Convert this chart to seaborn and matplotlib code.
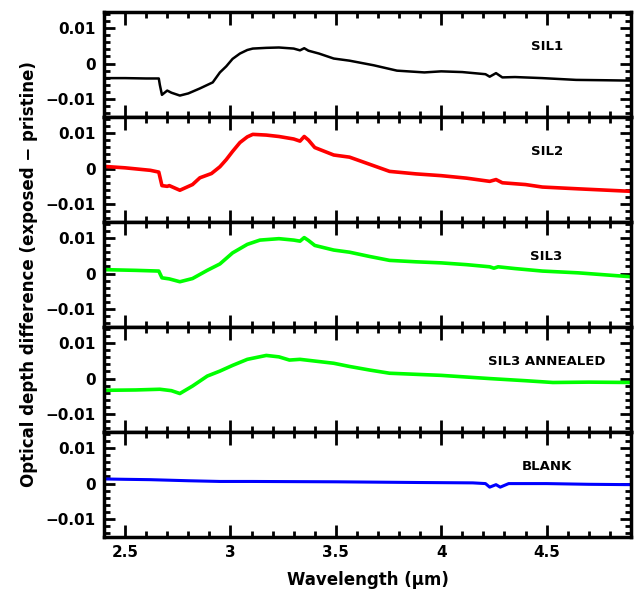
import numpy as np
import pandas as pd
import matplotlib
matplotlib.use('Agg')
import matplotlib.pyplot as plt
import seaborn as sns
from matplotlib.ticker import MultipleLocator

sil1_wl = [2.40, 2.50, 2.60, 2.66, 2.665, 2.675, 2.70, 2.72, 2.76, 2.80, 2.855, 2.916, 2.95, 2.98,
           3.01, 3.045, 3.08, 3.106, 3.17, 3.23, 3.30, 3.33, 3.35, 3.37, 3.42, 3.49, 3.565, 3.68,
           3.79, 3.92, 4.00, 4.10, 4.21, 4.23, 4.26, 4.29, 4.35, 4.48, 4.64, 4.78, 4.90]
sil1_od = [-0.0041, -0.0041, -0.0042, -0.0042, -0.0060, -0.0088, -0.0076, -0.0082, -0.0090, -0.0084,
           -0.0070, -0.0053, -0.0025, -0.0008, 0.0013, 0.0028, 0.0038, 0.0042, 0.0044, 0.0045,
           0.0042, 0.0037, 0.0043, 0.0036, 0.0028, 0.0014, 0.0008, -0.0005, -0.0020, -0.0025,
           -0.0022, -0.0024, -0.0030, -0.0037, -0.0027, -0.0039, -0.0038, -0.0041, -0.0046,
           -0.0047, -0.0048]

sil2_wl = [2.40, 2.50, 2.62, 2.66, 2.675, 2.70, 2.71, 2.76, 2.82, 2.855, 2.91, 2.95, 2.98, 3.01,
           3.045, 3.08, 3.106, 3.17, 3.23, 3.30, 3.33, 3.35, 3.37, 3.40, 3.49, 3.565, 3.66, 3.755,
           3.88, 4.00, 4.12, 4.23, 4.26, 4.29, 4.40, 4.48, 4.65, 4.90]
sil2_od = [0.0006, 0.0002, -0.0005, -0.0010, -0.0048, -0.0050, -0.0048, -0.0061, -0.0045, -0.0026,
           -0.0014, 0.0005, 0.0025, 0.0048, 0.0073, 0.0089, 0.0096, 0.0094, 0.0090, 0.0083,
           0.0077, 0.0090, 0.0080, 0.0059, 0.0038, 0.0032, 0.0012, -0.0008, -0.0015, -0.0020,
           -0.0027, -0.0036, -0.0031, -0.0040, -0.0045, -0.0052, -0.0057, -0.0064]

sil3_wl = [2.40, 2.55, 2.66, 2.675, 2.71, 2.76, 2.82, 2.89, 2.95, 3.01, 3.08, 3.14, 3.23, 3.30,
           3.33, 3.35, 3.37, 3.40, 3.49, 3.565, 3.66, 3.755, 3.88, 4.00, 4.12, 4.23, 4.25, 4.27,
           4.35, 4.48, 4.65, 4.90]
sil3_od = [0.0011, 0.0009, 0.0007, -0.0012, -0.0015, -0.0023, -0.0014, 0.0009, 0.0027, 0.0058,
           0.0082, 0.0094, 0.0098, 0.0094, 0.0091, 0.0101, 0.0093, 0.0079, 0.0066, 0.0060,
           0.0048, 0.0037, 0.0033, 0.0030, 0.0025, 0.0019, 0.0015, 0.0019, 0.0014, 0.0007,
           0.0002, -0.0009]

ann_wl = [2.40, 2.55, 2.665, 2.72, 2.76, 2.82, 2.89, 2.95, 3.01, 3.08, 3.17, 3.23, 3.28, 3.33,
          3.49, 3.565, 3.66, 3.755, 4.00, 4.23, 4.40, 4.53, 4.70, 4.90]
ann_od = [-0.0033, -0.0032, -0.0030, -0.0034, -0.0042, -0.0021, 0.0007, 0.0021, 0.0037, 0.0054,
          0.0065, 0.0061, 0.0052, 0.0054, 0.0043, 0.0034, 0.0024, 0.0015, 0.0009, 0.0000,
          -0.0006, -0.0011, -0.0010, -0.0011]

blank_wl = [2.40, 2.50, 2.62, 2.80, 2.95, 3.10, 3.50, 3.90, 4.15, 4.21, 4.23, 4.26, 4.28, 4.32,
            4.50, 4.70, 4.90]
blank_od = [0.0013, 0.0012, 0.0011, 0.0008, 0.0006, 0.0006, 0.0005, 0.0003, 0.0002, 0.0000,
            -0.0010, -0.0003, -0.0010, 0.0000, 0.0000, -0.0002, -0.0003]

labels = ['SIL1', 'SIL2', 'SIL3', 'SIL3 ANNEALED', 'BLANK']
colors = ['black', '#ff0000', '#00ff00', '#00ff00', '#0000ff']
widths = [1.8, 2.6, 2.6, 2.6, 2.2]
spectra = [(sil1_wl, sil1_od), (sil2_wl, sil2_od), (sil3_wl, sil3_od),
           (ann_wl, ann_od), (blank_wl, blank_od)]

sns.set_style('ticks')
plt.rcParams['font.family'] = ['DejaVu Sans']
plt.rcParams['font.weight'] = 'bold'
plt.rcParams['text.color'] = 'black'
plt.rcParams['axes.labelcolor'] = 'black'
plt.rcParams['axes.edgecolor'] = 'black'
plt.rcParams['xtick.color'] = 'black'
plt.rcParams['ytick.color'] = 'black'

fig, axes = plt.subplots(5, 1, figsize=(6.36, 5.95), dpi=100, sharex=True)
fig.subplots_adjust(left=0.1635, right=0.992, top=0.980, bottom=0.0975, hspace=0)

for ax, lab, col, lw, (wl, od) in zip(axes, labels, colors, widths, spectra):
    df = pd.DataFrame({'wl': wl, 'od': od})
    sns.lineplot(data=df, x='wl', y='od', ax=ax, color=col, lw=lw, estimator=None, sort=False)
    ax.set_xlim(2.4, 4.9)
    ax.set_ylim(-0.015, 0.0145)
    ax.set_xlabel('')
    ax.set_ylabel('')
    ax.set_yticks([-0.01, 0, 0.01])
    ax.set_yticklabels(['\u22120.01', '0', '0.01'])
    ax.yaxis.set_minor_locator(MultipleLocator(0.002))
    ax.xaxis.set_major_locator(MultipleLocator(0.5))
    ax.xaxis.set_minor_locator(MultipleLocator(0.1))
    ax.tick_params(which='both', direction='in', top=True, right=True, width=2.0, color='black')
    ax.tick_params(axis='x', which='major', length=9)
    ax.tick_params(axis='x', which='minor', length=4.5)
    ax.tick_params(axis='y', which='major', length=8)
    ax.tick_params(axis='y', which='minor', length=4)
    ax.tick_params(axis='both', labelsize=11, pad=6, labelcolor='black')
    for lbl in ax.get_yticklabels() + ax.get_xticklabels():
        lbl.set_fontweight('bold')
    for sp in ax.spines.values():
        sp.set_linewidth(2.5)
        sp.set_color('black')
        sp.set_visible(True)
    ax.text(4.5, 0.0048, lab, ha='center', va='center', fontsize=9.5, fontweight='bold',
            color='black')

axes[-1].set_xticks([2.5, 3, 3.5, 4, 4.5])
axes[-1].set_xticklabels(['2.5', '3', '3.5', '4', '4.5'])
axes[-1].set_xlabel('Wavelength (\u03bcm)', fontsize=12, fontweight='bold', labelpad=8,
                    color='black')
fig.text(0.045, 0.5389, 'Optical depth difference (exposed \u2212 pristine)', rotation=90,
         ha='center', va='center', fontsize=12, fontweight='bold', color='black')

fig.savefig('out.png', dpi=100)
